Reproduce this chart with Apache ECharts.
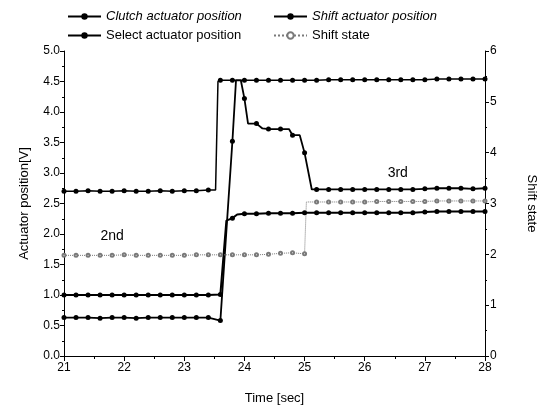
<!DOCTYPE html>
<html>
<head>
<meta charset="utf-8">
<script src="https://cdn.jsdelivr.net/npm/echarts@6/dist/echarts.min.js"></script>
<style>
  html, body { margin: 0; padding: 0; background: #fff; }
  #chart { width: 552px; height: 410px; }
</style>
</head>
<body>
<div id="chart"></div>
<script>
// Actuator signals (V) during a 2nd -> 3rd gear shift; samples every 0.2 s,
// with a few extra points inside the fast transitions.
const clutchTime  = [21.0,21.2,21.4,21.6,21.8,22.0,22.2,22.4,22.6,22.8,23.0,23.2,23.4,23.52,23.56,23.6,23.8,24.0,24.2,24.4,24.6,24.8,25.0,25.2,25.4,25.6,25.8,26.0,26.2,26.4,26.6,26.8,27.0,27.2,27.4,27.6,27.8,28.0];
const clutchValue = [2.70,2.70,2.71,2.70,2.70,2.71,2.70,2.70,2.71,2.70,2.71,2.71,2.72,2.72,4.50,4.52,4.52,4.52,4.52,4.52,4.52,4.52,4.52,4.52,4.53,4.53,4.53,4.53,4.53,4.53,4.53,4.53,4.53,4.54,4.54,4.54,4.54,4.54];

const shiftTime  = [21.0,21.2,21.4,21.6,21.8,22.0,22.2,22.4,22.6,22.8,23.0,23.2,23.4,23.6,23.8,23.86,23.94,24.0,24.06,24.2,24.3,24.4,24.6,24.74,24.8,24.92,25.0,25.12,25.2,25.4,25.6,25.8,26.0,26.2,26.4,26.6,26.8,27.0,27.2,27.4,27.6,27.8,28.0];
const shiftValue = [0.63,0.63,0.63,0.62,0.63,0.63,0.62,0.63,0.63,0.63,0.63,0.63,0.63,0.58,3.52,4.52,4.52,4.22,3.81,3.81,3.73,3.72,3.72,3.72,3.62,3.62,3.33,2.73,2.73,2.73,2.73,2.73,2.73,2.73,2.73,2.73,2.73,2.74,2.75,2.75,2.75,2.74,2.75];

const selectTime  = [21.0,21.2,21.4,21.6,21.8,22.0,22.2,22.4,22.6,22.8,23.0,23.2,23.4,23.6,23.7,23.8,23.88,24.0,24.2,24.4,24.6,24.8,25.0,25.2,25.4,25.6,25.8,26.0,26.2,26.4,26.6,26.8,27.0,27.2,27.4,27.6,27.8,28.0];
const selectValue = [1.00,1.00,1.00,1.00,1.00,1.00,1.00,1.00,1.00,1.00,1.00,1.00,1.00,1.01,2.22,2.26,2.32,2.33,2.33,2.34,2.34,2.34,2.35,2.35,2.35,2.35,2.35,2.35,2.35,2.35,2.35,2.35,2.36,2.37,2.37,2.37,2.37,2.37];

// Gear state on the right axis
const stateTime  = [21.0,21.2,21.4,21.6,21.8,22.0,22.2,22.4,22.6,22.8,23.0,23.2,23.4,23.6,23.8,24.0,24.2,24.4,24.6,24.8,25.0,25.03,25.2,25.4,25.6,25.8,26.0,26.2,26.4,26.6,26.8,27.0,27.2,27.4,27.6,27.8,28.0];
const stateValue = [1.98,1.98,1.98,1.98,1.98,1.99,1.98,1.98,1.98,1.98,1.98,1.99,1.99,1.99,1.99,1.99,1.99,2.00,2.02,2.03,2.01,3.03,3.03,3.03,3.03,3.03,3.03,3.04,3.04,3.04,3.04,3.04,3.05,3.05,3.05,3.05,3.05];

// Gear annotations: [time, actuator position]
const gearLabels = ['2nd', '3rd'];
const gearTime   = [21.8, 26.55];
const gearPos    = [1.96, 3.0];

const FONT = 'Liberation Sans, Arial, sans-serif';
const INK = '#000';

// Markers only on the regular 0.2 s samples
function pairs(ts, vs) {
  return ts.map((t, i) => {
    const onGrid = Math.abs(t * 5 - Math.round(t * 5)) < 0.01;
    return onGrid ? [t, vs[i]] : { value: [t, vs[i]], symbol: 'none' };
  });
}

const chart = echarts.init(document.getElementById('chart'), null, { renderer: 'canvas' });

const legendBase = {
  itemWidth: 33, itemHeight: 8, itemGap: 0, padding: 0,
  textStyle: { fontFamily: FONT, fontSize: 13, color: INK },
  selectedMode: false
};

chart.setOption({
  animation: false,
  backgroundColor: '#fff',
  grid: { left: 64, right: 67, top: 51, bottom: 47 },
  legend: [
    Object.assign({}, legendBase, { left: 67, top: 10, data: [{ name: 'Clutch actuator position', textStyle: { fontStyle: 'italic' } }] }),
    Object.assign({}, legendBase, { left: 273, top: 10, data: [{ name: 'Shift actuator position', textStyle: { fontStyle: 'italic' } }] }),
    Object.assign({}, legendBase, { left: 67, top: 29, data: ['Select actuator position'] }),
    Object.assign({}, legendBase, { left: 273, top: 29, data: ['Shift state'] })
  ],
  xAxis: [{
    type: 'value', min: 21, max: 28, interval: 1,
    name: 'Time [sec]', nameLocation: 'middle', nameGap: 36,
    nameTextStyle: { fontFamily: FONT, fontSize: 13, color: INK },
    axisLine: { lineStyle: { color: INK, width: 1 } },
    axisTick: { inside: false, length: 5, lineStyle: { color: INK } },
    minorTick: { show: true, splitNumber: 2, length: 3, lineStyle: { color: INK } },
    axisLabel: { fontFamily: FONT, fontSize: 12, color: INK, margin: 6 },
    splitLine: { show: false }
  }, {
    type: 'value', min: 21, max: 28, position: 'top',
    axisLine: { show: true, lineStyle: { color: INK, width: 1 } },
    axisTick: { show: false }, axisLabel: { show: false }, splitLine: { show: false }
  }],
  yAxis: [{
    type: 'value', min: 0, max: 5, interval: 0.5,
    name: 'Actuator position[V]', nameLocation: 'middle', nameGap: 33,
    nameTextStyle: { fontFamily: FONT, fontSize: 13, color: INK },
    axisLine: { show: true, lineStyle: { color: INK, width: 1 } },
    axisTick: { show: true, inside: false, length: 4, lineStyle: { color: INK } },
    minorTick: { show: true, splitNumber: 2, length: 2, lineStyle: { color: INK } },
    axisLabel: { fontFamily: FONT, fontSize: 12, color: INK, margin: 4, formatter: v => v.toFixed(1) },
    splitLine: { show: false }
  }, {
    type: 'value', min: 0, max: 6, interval: 1, position: 'right',
    name: 'Shift state', nameLocation: 'middle', nameGap: 40, nameRotate: -90,
    nameTextStyle: { fontFamily: FONT, fontSize: 13, color: INK },
    axisLine: { show: true, lineStyle: { color: INK, width: 1 } },
    axisTick: { show: true, inside: false, length: 4, lineStyle: { color: INK } },
    minorTick: { show: true, splitNumber: 2, length: 2, lineStyle: { color: INK } },
    axisLabel: { fontFamily: FONT, fontSize: 12, color: INK, margin: 5 },
    splitLine: { show: false }
  }],
  series: [{
    name: 'Clutch actuator position', type: 'line', yAxisIndex: 0,
    data: pairs(clutchTime, clutchValue),
    symbol: 'circle', symbolSize: 5, showAllSymbol: true,
    lineStyle: { color: INK, width: 1.5 }, itemStyle: { color: INK }
  }, {
    name: 'Shift actuator position', type: 'line', yAxisIndex: 0,
    data: pairs(shiftTime, shiftValue),
    symbol: 'circle', symbolSize: 5, showAllSymbol: true,
    lineStyle: { color: INK, width: 1.8 }, itemStyle: { color: INK }
  }, {
    name: 'Select actuator position', type: 'line', yAxisIndex: 0,
    data: pairs(selectTime, selectValue),
    symbol: 'circle', symbolSize: 5, showAllSymbol: true,
    lineStyle: { color: INK, width: 2 }, itemStyle: { color: INK }
  }, {
    name: 'Shift state', type: 'line', yAxisIndex: 1,
    data: pairs(stateTime, stateValue),
    symbol: 'emptyCircle', symbolSize: 3, showAllSymbol: true,
    lineStyle: { color: '#7a7a7a', width: 1, type: 'dotted' },
    itemStyle: { color: '#7a7a7a', borderWidth: 0.8 }
  }, {
    name: 'gear', type: 'scatter', yAxisIndex: 0, symbolSize: 1, silent: true,
    itemStyle: { color: 'rgba(0,0,0,0)', opacity: 1 },
    data: gearLabels.map((g, i) => ({ name: g, value: [gearTime[i], gearPos[i]] })),
    label: { show: true, position: 'inside', formatter: p => p.name, fontFamily: FONT, fontSize: 14, color: INK, textBorderWidth: 0 }
  }]
});
</script>
</body>
</html>
